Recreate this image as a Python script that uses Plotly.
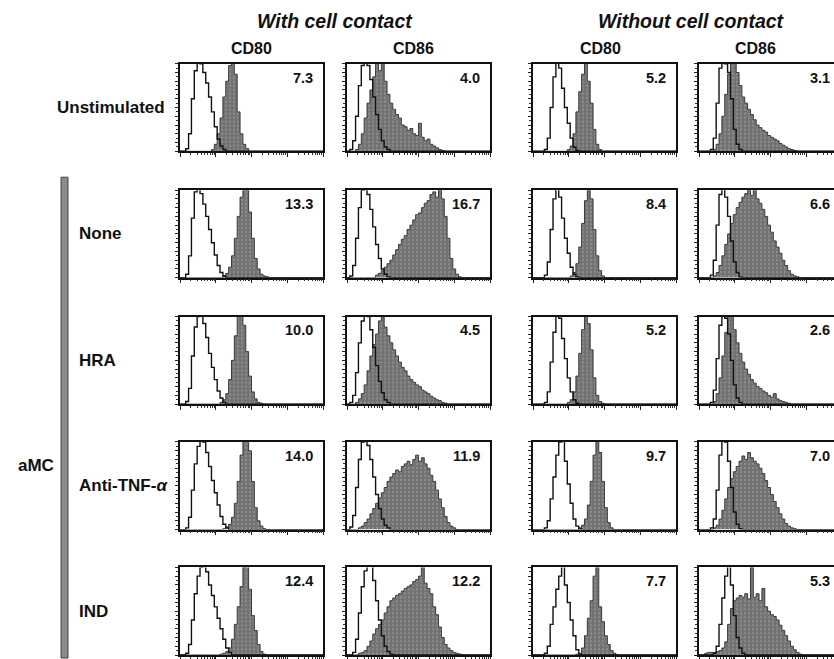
import math
import plotly.graph_objects as go

# ---------------- data (histogram heights, % of panel height, 50 log-bins over 4 decades) ----------------
group_titles = ["With cell contact", "Without cell contact"]
marker_labels = ["CD80", "CD86", "CD80", "CD86"]
row_labels = ["Unstimulated", "None", "HRA", "Anti-TNF-<i>α</i>", "IND"]
group_label = "aMC"

mfi_r1 = [7.3, 4.0, 5.2, 3.1]
mfi_r2 = [13.3, 16.7, 8.4, 6.6]
mfi_r3 = [10.0, 4.5, 5.2, 2.6]
mfi_r4 = [14.0, 11.9, 9.7, 7.0]
mfi_r5 = [12.4, 12.2, 7.7, 5.3]

# isotype control (open histograms)
iso_r1_c1 = [0, 0, 3, 20, 60, 92, 102, 100, 90, 78, 62, 45, 28, 14, 6, 2]
iso_r2_c1 = [0, 0, 4, 25, 68, 98, 104, 96, 84, 70, 55, 40, 26, 14, 6, 2]
iso_r3_c1 = [0, 0, 3, 18, 55, 88, 100, 104, 92, 76, 58, 42, 28, 15, 7, 2]
iso_r4_c1 = [0, 0, 2, 14, 45, 75, 95, 104, 100, 88, 72, 56, 42, 28, 15, 6, 2]
iso_r5_c1 = [0, 0, 2, 12, 40, 70, 90, 100, 105, 95, 80, 68, 55, 42, 30, 18, 8, 3]

iso_r1_c2 = [0, 2, 12, 40, 75, 98, 105, 98, 82, 62, 42, 25, 12, 5, 2]
iso_r2_c2 = [0, 2, 14, 45, 80, 100, 104, 95, 78, 58, 38, 22, 10, 4, 1]
iso_r3_c2 = [0, 2, 10, 36, 70, 95, 106, 100, 85, 65, 44, 26, 13, 5, 2]
iso_r4_c2 = [0, 3, 16, 48, 80, 100, 104, 96, 80, 60, 40, 24, 12, 5, 2]
iso_r5_c2 = [0, 0, 3, 18, 48, 78, 96, 105, 102, 85, 62, 40, 22, 10, 4, 1]

iso_r1_c3 = [0, 0, 0, 0, 2, 15, 50, 85, 105, 95, 72, 50, 32, 15, 5, 1]
iso_r2_c3 = [0, 0, 0, 0, 3, 18, 55, 90, 104, 92, 68, 45, 28, 12, 4, 1]
iso_r3_c3 = [0, 0, 0, 0, 2, 14, 48, 82, 102, 98, 75, 52, 30, 14, 5, 1]
iso_r4_c3 = [0, 0, 0, 0, 2, 10, 35, 60, 85, 100, 104, 78, 52, 30, 12, 4, 1]
iso_r5_c3 = [0, 0, 0, 0, 2, 10, 35, 55, 75, 90, 102, 80, 60, 40, 22, 6, 1]

iso_r1_c4 = [0, 0, 0, 0, 2, 15, 55, 95, 105, 100, 90, 60, 25, 8, 2]
iso_r2_c4 = [0, 0, 0, 0, 3, 20, 60, 95, 104, 92, 70, 42, 18, 6, 1]
iso_r3_c4 = [0, 0, 0, 0, 2, 16, 52, 90, 105, 98, 80, 50, 22, 7, 2]
iso_r4_c4 = [0, 0, 0, 0, 2, 12, 45, 85, 102, 100, 78, 48, 20, 6, 1]
iso_r5_c4 = [0, 0, 0, 0, 0, 2, 10, 35, 65, 90, 105, 80, 45, 20, 8, 2]

# stained (filled histograms)
fill_r1_c1 = [0, 0, 0, 0, 0, 0, 0, 0, 0, 0, 0, 2, 8, 20, 38, 62, 80, 98, 110, 88, 45, 20, 8, 3]
fill_r2_c1 = [0, 0, 0, 0, 0, 0, 0, 0, 0, 0, 0, 0, 0, 0, 0, 2, 5, 12, 25, 45, 70, 92, 108, 100, 75, 45, 22, 10, 4, 2, 1]
fill_r3_c1 = [0, 0, 0, 0, 0, 0, 0, 0, 0, 0, 0, 0, 0, 0, 2, 5, 12, 28, 50, 78, 100, 108, 90, 60, 32, 14, 6, 2, 1]
fill_r4_c1 = [0, 0, 0, 0, 0, 0, 0, 0, 0, 0, 0, 0, 0, 0, 0, 1, 3, 6, 14, 30, 55, 85, 105, 110, 90, 55, 25, 10, 4, 1]
fill_r5_c1 = [0, 0, 0, 0, 0, 0, 0, 0, 0, 0, 0, 0, 0, 0, 1, 2, 4, 8, 18, 35, 55, 78, 100, 108, 75, 45, 28, 12, 4, 1]

fill_r1_c2 = [0, 0, 0, 2, 8, 20, 38, 55, 70, 85, 100, 92, 105, 80, 65, 55, 48, 42, 38, 30, 28, 24, 26, 20,
              18, 32, 16, 12, 14, 8, 6, 4, 2, 1]
fill_r2_c2 = [0, 0, 0, 0, 0, 0, 0, 0, 0, 0, 3, 5, 8, 12, 16, 20, 26, 32, 38, 44, 48, 55, 60, 66, 72, 74,
              80, 85, 88, 95, 98, 92, 100, 90, 70, 45, 22, 10, 4, 1]
fill_r3_c2 = [0, 0, 0, 2, 6, 12, 22, 38, 55, 68, 80, 95, 100, 88, 78, 70, 62, 55, 48, 42, 38, 32, 28, 25,
              22, 20, 16, 14, 12, 9, 7, 5, 4, 2, 1]
fill_r4_c2 = [0, 0, 0, 0, 2, 4, 8, 12, 18, 24, 30, 36, 42, 48, 55, 60, 64, 68, 66, 72, 75, 78, 74, 80, 85,
              78, 82, 75, 70, 62, 55, 45, 35, 25, 15, 8, 4, 2]
fill_r5_c2 = [0, 0, 0, 0, 2, 3, 5, 10, 16, 24, 30, 35, 40, 48, 55, 62, 65, 68, 70, 73, 76, 78, 80, 84, 86,
              90, 102, 82, 76, 70, 55, 46, 32, 20, 12, 8, 5, 3, 2, 1]

fill_r1_c3 = [0, 0, 0, 0, 0, 0, 0, 0, 0, 0, 0, 0, 2, 6, 20, 45, 68, 88, 105, 80, 55, 25, 8, 2]
fill_r2_c3 = [0, 0, 0, 0, 0, 0, 0, 0, 0, 0, 0, 0, 0, 2, 6, 16, 35, 62, 88, 105, 90, 55, 25, 8, 2]
fill_r3_c3 = [0, 0, 0, 0, 0, 0, 0, 0, 0, 0, 0, 0, 2, 5, 14, 32, 58, 85, 104, 92, 62, 30, 10, 3, 1]
fill_r4_c3 = [0, 0, 0, 0, 0, 0, 0, 0, 0, 0, 0, 0, 0, 0, 0, 0, 2, 5, 12, 28, 55, 85, 105, 88, 55, 25, 8, 2]
fill_r5_c3 = [0, 0, 0, 0, 0, 0, 0, 0, 0, 0, 0, 0, 0, 0, 0, 1, 2, 8, 22, 42, 62, 90, 105, 55, 38, 22, 12, 5, 2]

fill_r1_c4 = [0, 0, 0, 0, 0, 2, 8, 20, 40, 65, 88, 100, 105, 90, 75, 62, 55, 48, 42, 36, 30, 27, 24, 22,
              18, 16, 14, 12, 9, 7, 5, 3, 2, 1]
fill_r2_c4 = [0, 0, 0, 0, 0, 2, 6, 14, 25, 38, 50, 62, 72, 80, 86, 92, 96, 100, 94, 102, 90, 85, 78, 70,
              60, 52, 42, 35, 28, 20, 14, 8, 4, 2, 1]
fill_r3_c4 = [0, 0, 0, 0, 0, 3, 12, 30, 55, 82, 100, 105, 85, 70, 58, 48, 40, 34, 28, 24, 20, 18, 15, 13,
              10, 8, 12, 6, 4, 3, 2, 1]
fill_r4_c4 = [0, 0, 0, 0, 0, 2, 5, 12, 22, 35, 48, 58, 66, 72, 78, 84, 80, 88, 82, 78, 75, 70, 64, 56, 48,
              40, 32, 25, 18, 12, 7, 4, 2, 1]
fill_r5_c4 = [0, 0, 2, 3, 3, 3, 4, 5, 8, 15, 35, 53, 62, 65, 68, 66, 70, 64, 100, 66, 70, 62, 76, 55, 50,
              46, 44, 40, 34, 28, 22, 16, 10, 6, 3, 1]

iso_rows = [
    [iso_r1_c1, iso_r1_c2, iso_r1_c3, iso_r1_c4],
    [iso_r2_c1, iso_r2_c2, iso_r2_c3, iso_r2_c4],
    [iso_r3_c1, iso_r3_c2, iso_r3_c3, iso_r3_c4],
    [iso_r4_c1, iso_r4_c2, iso_r4_c3, iso_r4_c4],
    [iso_r5_c1, iso_r5_c2, iso_r5_c3, iso_r5_c4],
]
fill_rows = [
    [fill_r1_c1, fill_r1_c2, fill_r1_c3, fill_r1_c4],
    [fill_r2_c1, fill_r2_c2, fill_r2_c3, fill_r2_c4],
    [fill_r3_c1, fill_r3_c2, fill_r3_c3, fill_r3_c4],
    [fill_r4_c1, fill_r4_c2, fill_r4_c3, fill_r4_c4],
    [fill_r5_c1, fill_r5_c2, fill_r5_c3, fill_r5_c4],
]
mfi_rows = [mfi_r1, mfi_r2, mfi_r3, mfi_r4, mfi_r5]

# ---------------- layout geometry (pixels) ----------------
W, H = 834, 659
NB = 50
DECADES = 4.0
STEP = DECADES / NB
COL_LEFT = [180, 347, 533, 699]
PANEL_W = 143
ROW_TOP = [64, 191, 318, 444, 570]
PANEL_H = 88
FONT = "Liberation Sans, Arial, Helvetica, sans-serif"
INK = "#111111"


def px_x(p):
    return p / W


def px_y(p):
    return 1 - p / H


def padded(vals):
    return list(vals) + [0] * (NB - len(vals)) + [0]


def label(x, y, text, size, xanchor="center"):
    return dict(x=px_x(x), y=px_y(y), xref="paper", yref="paper", text=text, showarrow=False,
                xanchor=xanchor, yanchor="middle", font=dict(family=FONT, size=size, color=INK))


edges = [i * STEP for i in range(NB + 1)]
minor_vals = [d + math.log10(m) for d in range(4) for m in range(2, 10)]

fig = go.Figure()
layout_axes = {}
annotations = []
shapes = []

for r in range(5):
    for c in range(4):
        k = r * 4 + c + 1
        xa = "x" if k == 1 else f"x{k}"
        ya = "y" if k == 1 else f"y{k}"
        left = COL_LEFT[c]
        right = left + PANEL_W
        vis_right = min(right, W)
        xmax = DECADES * (vis_right - left) / PANEL_W
        top = ROW_TOP[r]
        bot = top + PANEL_H

        fig.add_trace(go.Scatter(
            x=edges, y=padded(fill_rows[r][c]), xaxis=xa, yaxis=ya,
            mode="lines", line=dict(shape="hv", color="#3a3a3a", width=1),
            fill="tozeroy", fillcolor="#767676",
            fillpattern=dict(shape=".", bgcolor="#727272", fgcolor="#a8a8a8", size=4, solidity=0.25),
            hoverinfo="skip", showlegend=False))
        fig.add_trace(go.Scatter(
            x=edges, y=padded(iso_rows[r][c]), xaxis=xa, yaxis=ya,
            mode="lines", line=dict(shape="hv", color=INK, width=1.4),
            hoverinfo="skip", showlegend=False))

        key_x = "xaxis" if k == 1 else f"xaxis{k}"
        key_y = "yaxis" if k == 1 else f"yaxis{k}"
        layout_axes[key_x] = dict(
            domain=[px_x(left), px_x(vis_right)], anchor=ya, range=[0, xmax],
            showgrid=False, zeroline=False,
            showline=True, linecolor=INK, linewidth=1.5, mirror=True,
            ticks="outside", tickvals=[0, 1, 2, 3, 4], ticklen=4, tickwidth=1, tickcolor="#222222",
            showticklabels=False,
            minor=dict(tickvals=minor_vals, ticks="outside", ticklen=2, tickwidth=1, tickcolor="#333333"),
            fixedrange=True)
        layout_axes[key_y] = dict(
            domain=[px_y(bot), px_y(top)], anchor=xa, range=[0, 100],
            showgrid=False, zeroline=False,
            showline=True, linecolor=INK, linewidth=1.5, mirror=(c != 3),
            ticks="outside", dtick=10, ticklen=3, tickwidth=1, tickcolor="#222222",
            showticklabels=False,
            minor=dict(dtick=5, ticks="outside", ticklen=2, tickwidth=1, tickcolor="#333333"),
            fixedrange=True)

        num_right = min(left + PANEL_W - 8, W - 2)
        annotations.append(label(num_right, top + 14, f"<b>{mfi_rows[r][c]:.1f}</b>", 14.5, "right"))

# column headers
for txt, cx in zip(group_titles, [335, 691]):
    annotations.append(label(cx, 21, f"<b><i>{txt}</i></b>", 19.5))
for txt, cx in zip(marker_labels, [251, 413, 600, 755]):
    annotations.append(label(cx, 49, f"<b>{txt}</b>", 16))

# row labels
annotations.append(label(167, ROW_TOP[0] + PANEL_H / 2, f"<b>{row_labels[0]}</b>", 17, "right"))
for r in range(1, 5):
    annotations.append(label(77, ROW_TOP[r] + PANEL_H / 2, f"<b>{row_labels[r]}</b>", 17, "left"))
annotations.append(label(36, 468, f"<b>{group_label}</b>", 17))

shapes.append(dict(type="rect", xref="paper", yref="paper",
                   x0=px_x(61), x1=px_x(68), y0=px_y(H + 2), y1=px_y(178),
                   fillcolor="#8a8a8a", line=dict(color="#444444", width=1)))

fig.update_layout(
    width=W, height=H, margin=dict(l=0, r=0, t=0, b=0),
    paper_bgcolor="white", plot_bgcolor="white",
    annotations=annotations, shapes=shapes, showlegend=False,
    **layout_axes)

fig.write_html("out.html", config={"displayModeBar": False},
               post_script="document.body.style.margin='0';document.body.style.overflow='hidden';")
